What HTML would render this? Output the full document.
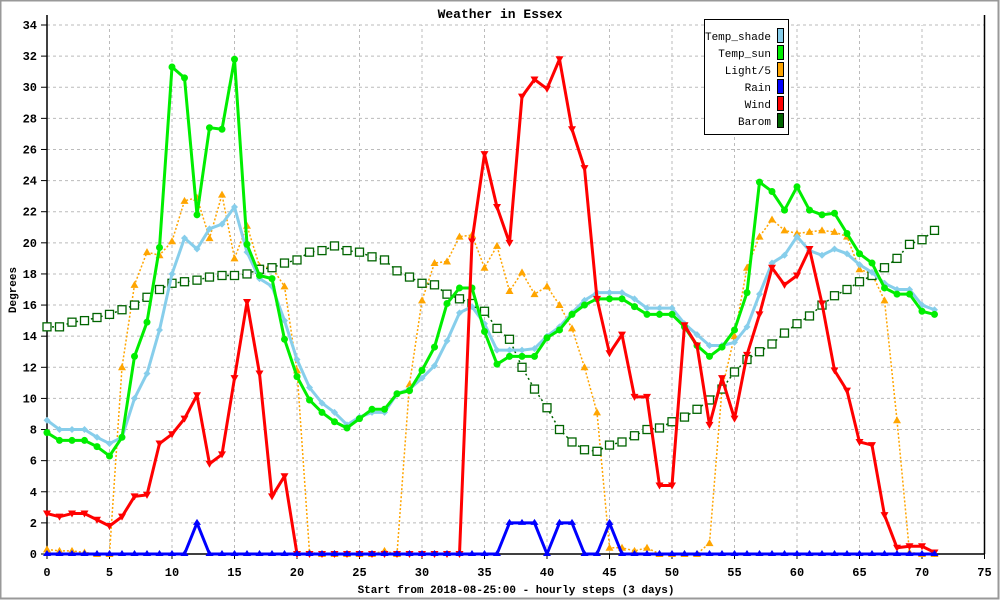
<!DOCTYPE html>
<html><head><meta charset="utf-8"><style>
html,body{margin:0;padding:0;background:#fff;}
svg{display:block;}
text{font-family:"Liberation Mono","DejaVu Sans Mono",monospace;}
</style></head><body>
<svg id="chart" width="1000" height="600" viewBox="0 0 1000 600" xmlns="http://www.w3.org/2000/svg">
<rect x="0.5" y="0.5" width="998" height="598" fill="#fff" stroke="#999" stroke-width="2"/>
<text x="500" y="18" text-anchor="middle" font-size="13" font-weight="bold">Weather in Essex</text>
<text x="16" y="290" text-anchor="middle" font-size="11" font-weight="bold" transform="rotate(-90 16 290)">Degrees</text>
<text x="516" y="593" text-anchor="middle" font-size="11" font-weight="bold">Start from 2018-08-25:00 - hourly steps (3 days)</text>
<g id="grid"></g>
<g id="axes"></g>
<g id="series"></g>
<g id="legend"></g>
</svg>
<script>
const xTicks=[0,5,10,15,20,25,30,35,40,45,50,55,60,65,70,75];
const yTicks=[0,2,4,6,8,10,12,14,16,18,20,22,24,26,28,30,32,34];
const seriesNames=["Temp_shade","Temp_sun","Light/5","Rain","Wind","Barom"];
const tempShade=[8.6,8.0,8.0,8.0,7.5,7.1,7.5,10.0,11.6,14.4,18.0,20.3,19.6,20.9,21.2,22.3,19.4,17.7,17.2,15.0,12.5,10.7,9.7,9.1,8.3,8.8,9.1,9.1,10.3,10.6,11.3,12.1,13.7,15.5,15.9,14.8,13.1,13.1,13.1,13.2,14.0,14.6,15.5,16.3,16.8,16.8,16.8,16.4,15.8,15.8,15.8,14.8,14.1,13.4,13.4,13.6,14.6,16.7,18.7,19.2,20.4,19.5,19.2,19.6,19.3,18.6,18.1,17.4,17.0,17.0,16.0,15.7];
const tempSun=[7.8,7.3,7.3,7.3,6.9,6.3,7.5,12.7,14.9,19.7,31.3,30.6,21.8,27.4,27.3,31.8,19.9,17.9,17.7,13.8,11.4,9.9,9.1,8.5,8.1,8.7,9.3,9.3,10.3,10.5,11.8,13.3,16.1,17.1,17.1,14.3,12.2,12.7,12.7,12.7,13.9,14.4,15.4,16.0,16.4,16.4,16.4,15.9,15.4,15.4,15.4,14.6,13.4,12.7,13.3,14.4,16.8,23.9,23.3,22.1,23.6,22.1,21.8,21.9,20.6,19.3,18.7,17.1,16.7,16.7,15.6,15.4];
const light=[0.3,0.2,0.2,0.1,0,0,12.0,17.3,19.4,19.2,20.1,22.7,22.9,20.3,23.1,19.0,21.1,18.5,18.4,17.2,11.8,0.1,0,0,0,0,0,0.2,0,10.9,16.3,18.7,18.8,20.4,20.5,18.4,19.8,16.9,18.1,16.7,17.2,16.0,14.5,12.0,9.1,0.4,0.4,0.2,0.4,0,0,0,0,0.7,10.6,14.0,18.4,20.4,21.5,20.8,20.6,20.7,20.8,20.7,20.4,18.3,18.0,16.3,8.6,0.1,0,0];
const rain=[0,0,0,0,0,0,0,0,0,0,0,0,2,0,0,0,0,0,0,0,0,0,0,0,0,0,0,0,0,0,0,0,0,0,0,0,0,2,2,2,0,2,2,0,0,2,0,0,0,0,0,0,0,0,0,0,0,0,0,0,0,0,0,0,0,0,0,0,0,0,0,0];
const wind=[2.6,2.4,2.6,2.6,2.2,1.8,2.4,3.7,3.8,7.1,7.7,8.7,10.2,5.8,6.4,11.3,16.2,11.6,3.7,5.0,0,0,0,0,0,0,0,0,0,0,0,0,0,0,20.1,25.7,22.3,20.0,29.4,30.5,29.9,31.8,27.3,24.8,16.4,12.9,14.1,10.1,10.1,4.4,4.4,14.7,13.4,8.3,11.3,8.7,12.8,15.4,18.4,17.3,17.9,19.6,16.1,11.8,10.5,7.2,7.0,2.5,0.4,0.5,0.5,0.1];
const barom=[14.6,14.6,14.9,15.0,15.2,15.4,15.7,16.0,16.5,17.0,17.4,17.5,17.6,17.8,17.9,17.9,18.0,18.3,18.4,18.7,18.9,19.4,19.5,19.8,19.5,19.4,19.1,18.9,18.2,17.8,17.4,17.3,16.7,16.4,16.1,15.6,14.5,13.8,12.0,10.6,9.4,8.0,7.2,6.7,6.6,7.0,7.2,7.6,8.0,8.1,8.5,8.8,9.3,9.9,10.6,11.7,12.5,13.0,13.5,14.2,14.8,15.3,16.0,16.6,17.0,17.5,17.9,18.4,19.0,19.9,20.2,20.8];

const NS="http://www.w3.org/2000/svg";
const X0=47,X1=984.5,Y0=554,Y1=25;
function xs(v){return X0+(X1-X0)*v/75;}
function ys(v){return Y0-(Y0-Y1)*v/34;}
function mk(tag,attrs,parent){const e=document.createElementNS(NS,tag);for(const k in attrs)e.setAttribute(k,attrs[k]);parent.appendChild(e);return e;}
const grid=document.getElementById('grid'),axes=document.getElementById('axes'),ser=document.getElementById('series'),leg=document.getElementById('legend');

yTicks.forEach(t=>{
  if(t>0){const l=mk('line',{x1:X0,x2:X1,y1:ys(t),y2:ys(t),stroke:'#bbb','stroke-dasharray':'3,3'},grid);
  
  }
  const tk=mk('line',{x1:X0-6,x2:X0,y1:ys(t),y2:ys(t),stroke:'#000'},axes);
  
  
  const tx=mk('text',{x:X0-10,y:ys(t)+4,'text-anchor':'end','font-size':'12','font-weight':'bold'},axes);
  tx.textContent=t;
  
  
});
xTicks.forEach(t=>{
  if(t>0&&t<75){const l=mk('line',{x1:xs(t),x2:xs(t),y1:Y0,y2:Y1,stroke:'#bbb','stroke-dasharray':'3,3'},grid);
  
  }
  const tk=mk('line',{x1:xs(t),x2:xs(t),y1:Y0,y2:Y0+5,stroke:'#000'},axes);
  
  
  const tx=mk('text',{x:xs(t),y:Y0+22,'text-anchor':'middle','font-size':'12','font-weight':'bold'},axes);
  tx.textContent=t;
  
  
});
const ya=mk('line',{x1:X0,x2:X0,y1:Y0,y2:Y1-10,stroke:'#000','stroke-width':1.5},axes);


const xa=mk('line',{x1:X0,x2:X1,y1:Y0,y2:Y0,stroke:'#000','stroke-width':1.5},axes);


const ra=mk('line',{x1:X1,x2:X1,y1:Y0,y2:Y1-10,stroke:'#000','stroke-width':1.5},axes);



function marker(kind,x,y,color,g){
  let e;
  if(kind==='circle'){e=mk('circle',{cx:x,cy:y,r:3.5,fill:color},g);}
  else if(kind==='diamond'){e=mk('polygon',{points:`${x},${y-3.5} ${x+3.5},${y} ${x},${y+3.5} ${x-3.5},${y}`,fill:color},g);}
  else if(kind==='up'){e=mk('polygon',{points:`${x},${y-4} ${x+4},${y+3} ${x-4},${y+3}`,fill:color},g);}
  else if(kind==='down'){e=mk('polygon',{points:`${x-4},${y-3} ${x+4},${y-3} ${x},${y+4}`,fill:color},g);}
  else if(kind==='rain'){e=mk('polygon',{points:`${x},${y-4} ${x+4},${y+2} ${x-4},${y+2}`,fill:color},g);}
  else if(kind==='square'){e=mk('rect',{x:x-4,y:y-4,width:8,height:8,fill:'#fff',stroke:color,'stroke-width':1.3},g);}
  
  
}
function drawSeries(name,data,color,width,dash,kind){
  const g=mk('g',{},ser);
  
  
  const pts=data.map((v,i)=>xs(i)+','+ys(v)).join(' ');
  const attrs={points:pts,fill:'none',stroke:color,'stroke-width':width,'stroke-linejoin':'round'};
  if(dash)attrs['stroke-dasharray']=dash;
  const pl=mk('polyline',attrs,g);
  
  
  data.forEach((v,i)=>marker(kind,xs(i),ys(v),color,g));
}
drawSeries('Light',light,'#ffa500',1.5,'2,2','up');
drawSeries('Barom',barom,'#006400',1.5,'2,3','square');
drawSeries('Temp_shade',tempShade,'#87ceeb',3,null,'diamond');
drawSeries('Temp_sun',tempSun,'#00ee00',3,null,'circle');
drawSeries('Wind',wind,'#ff0000',3,null,'down');
drawSeries('Rain',rain,'#0000ff',3,null,'rain');

const colors=['#87ceeb','#00ee00','#ffa500','#0000ff','#ff0000','#006400'];
const lb=mk('rect',{x:704.5,y:19.5,width:84,height:115,fill:'#fff',stroke:'#000'},leg);


seriesNames.forEach((n,i)=>{
  const y=36+i*17;
  const t=mk('text',{x:771,y:y+4,'text-anchor':'end','font-size':'11'},leg);
  t.textContent=n;
  
  
  const s=mk('rect',{x:777.5,y:y-7.5,width:6,height:14,fill:colors[i],stroke:'#000'},leg);
  
  
});
</script>
</body></html>
